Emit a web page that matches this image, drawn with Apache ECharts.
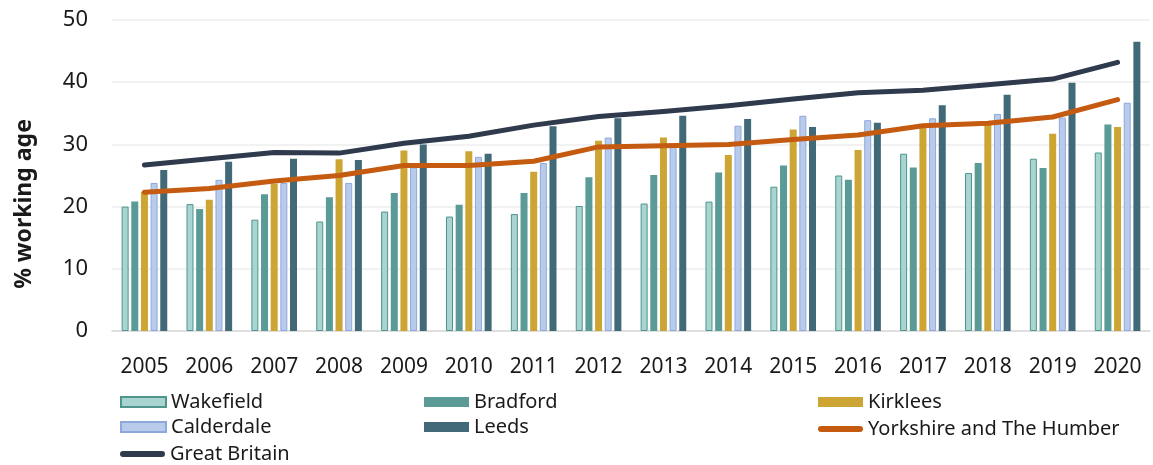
<!DOCTYPE html>
<html>
<head>
<meta charset="utf-8">
<script src="https://cdn.jsdelivr.net/npm/echarts@6/dist/echarts.min.js"></script>
<style>
  html, body { margin: 0; padding: 0; background: #fff; }
  #chart { width: 1153px; height: 465px; }
</style>
</head>
<body>
<div id="chart"></div>
<script>
var years = ['2005', '2006', '2007', '2008', '2009', '2010', '2011', '2012',
             '2013', '2014', '2015', '2016', '2017', '2018', '2019', '2020'];

var wakefield  = [20.0, 20.4, 17.9, 17.6, 19.2, 18.4, 18.8, 20.1, 20.5, 20.8, 23.2, 25.0, 28.5, 25.4, 27.7, 28.7];
var bradford   = [20.8, 19.6, 22.0, 21.5, 22.2, 20.3, 22.2, 24.7, 25.1, 25.5, 26.6, 24.3, 26.3, 27.0, 26.2, 33.2];
var kirklees   = [22.4, 21.1, 23.7, 27.6, 29.0, 28.9, 25.6, 30.6, 31.1, 28.3, 32.4, 29.1, 33.2, 33.6, 31.7, 32.8];
var calderdale = [23.8, 24.3, 23.8, 23.8, 26.3, 28.0, 27.0, 31.1, 29.6, 33.0, 34.6, 33.9, 34.2, 34.9, 34.3, 36.7];
var leeds      = [25.9, 27.2, 27.7, 27.5, 30.0, 28.5, 32.9, 34.2, 34.6, 34.1, 32.8, 33.5, 36.3, 38.0, 39.9, 46.5];
var yorkshire  = [22.3, 22.9, 24.1, 25.0, 26.6, 26.6, 27.3, 29.6, 29.8, 30.0, 30.8, 31.5, 33.0, 33.4, 34.4, 37.2];
var britain    = [26.7, 27.7, 28.7, 28.6, 30.2, 31.3, 33.1, 34.5, 35.3, 36.2, 37.3, 38.3, 38.7, 39.6, 40.5, 43.2];

var font = 'Noto Sans';
var capsule = 'path://M3,0 L42,0 A3,3 0 0 1 42,6 L3,6 A3,3 0 0 1 3,0 Z';
var myChart = echarts.init(document.getElementById('chart'));

function barSeries(name, data, fill, border) {
    return {
        name: name,
        type: 'bar',
        data: data,
        barWidth: 7,
        barGap: '38%',
        itemStyle: {
            color: fill,
            borderColor: border || fill,
            borderWidth: border ? 1 : 0
        }
    };
}

function lineSeries(name, data, color) {
    return {
        name: name,
        type: 'line',
        data: data,
        symbol: 'none',
        z: 5,
        lineStyle: { color: color, width: 5, cap: 'round', join: 'round' },
        itemStyle: { color: color }
    };
}

function legendItem(name, left, top, line) {
    return {
        data: [name],
        left: left,
        top: top,
        orient: 'horizontal',
        itemWidth: 45,
        itemHeight: line ? 6 : 10,
        itemGap: 0,
        padding: 0,
        icon: line ? capsule : 'rect',
        textStyle: { fontFamily: font, fontSize: 20, color: '#1a1a1a' }
    };
}

var option = {
    animation: false,
    backgroundColor: '#ffffff',
    grid: { left: 112, right: 3, top: 20, bottom: 134 },
    legend: [
        legendItem('Wakefield', 120, 392),
        legendItem('Bradford', 424, 392),
        legendItem('Kirklees', 818, 392),
        legendItem('Calderdale', 120, 417),
        legendItem('Leeds', 424, 417),
        legendItem('Yorkshire and The Humber', 818, 419, true),
        legendItem('Great Britain', 120, 444, true)
    ],
    xAxis: {
        type: 'category',
        data: years,
        axisLine: { lineStyle: { color: '#d9d9d9', width: 1.5 } },
        axisTick: { show: false },
        axisLabel: { fontFamily: font, fontSize: 21, color: '#1a1a1a', margin: 26, interval: 0 }
    },
    yAxis: {
        type: 'value',
        min: 0,
        max: 50,
        interval: 10,
        name: '% working age',
        nameLocation: 'middle',
        nameGap: 76,
        nameTextStyle: {
            fontFamily: font, fontSize: 23, fontWeight: 'bold', color: '#1a1a1a',
            padding: [0, 57, 0, 0]
        },
        axisLine: { show: false },
        axisTick: { show: false },
        axisLabel: { fontFamily: font, fontSize: 22, color: '#1a1a1a', margin: 24 },
        splitLine: { lineStyle: { color: '#eeeeee', width: 1.5 } }
    },
    series: [
        barSeries('Wakefield', wakefield, '#a9d5d1', '#4f948d'),
        barSeries('Bradford', bradford, '#5a9a97'),
        barSeries('Kirklees', kirklees, '#cca535'),
        barSeries('Calderdale', calderdale, '#b9cbea', '#8ea8dd'),
        barSeries('Leeds', leeds, '#416977'),
        lineSeries('Yorkshire and The Humber', yorkshire, '#c55a11'),
        lineSeries('Great Britain', britain, '#2f3a4d')
    ]
};

myChart.setOption(option);
</script>
</body>
</html>
